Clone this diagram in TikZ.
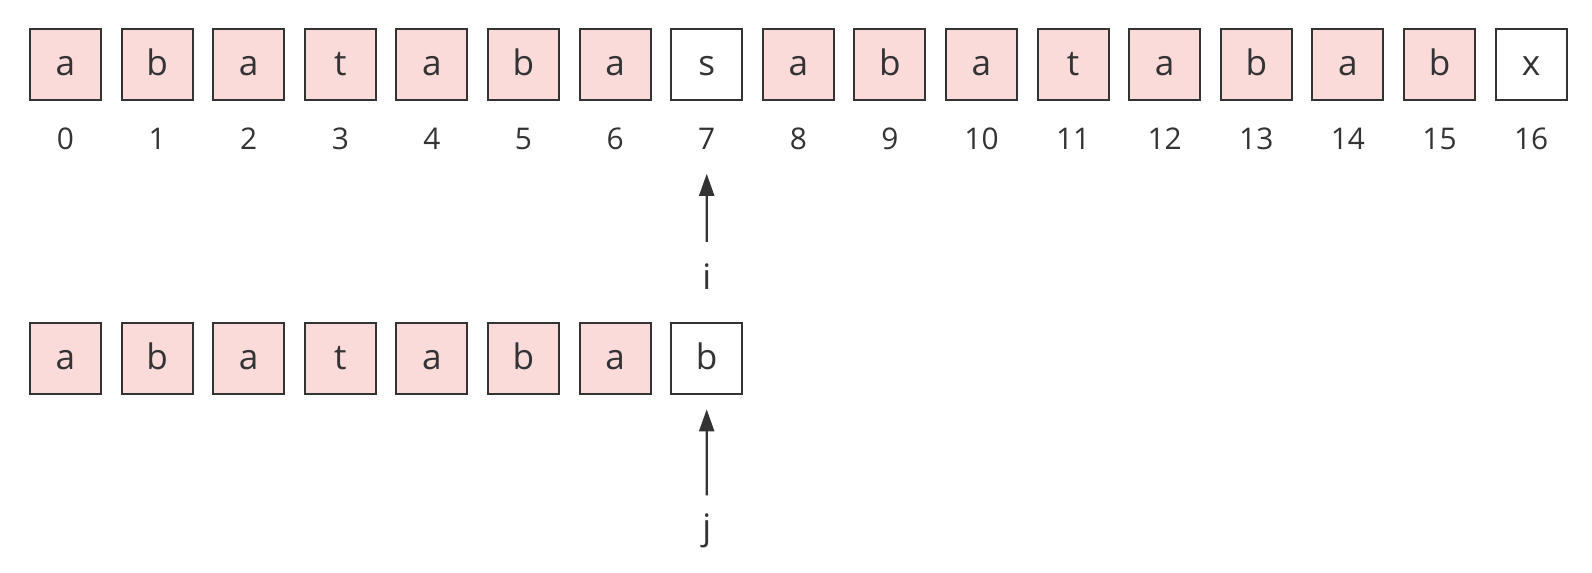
\documentclass[tikz,border=0pt]{standalone}
\usepackage{fontspec}
\setmainfont{Open Sans}
\usetikzlibrary{arrows.meta}
\definecolor{cellpink}{HTML}{FADBDA}
\definecolor{ink}{HTML}{333333}
\tikzset{
	cell/.style={draw=ink, line width=1.2pt, minimum size=1.42cm, inner sep=0pt,
		text height=0.46cm, text depth=0cm, text=ink, font=\fontsize{20}{20}\selectfont},
	idx/.style={inner sep=0pt, anchor=base, text=ink, font=\fontsize{17}{17}\selectfont},
	ptrlabel/.style={inner sep=0pt, anchor=base, text=ink, font=\fontsize{20}{20}\selectfont},
	ptr/.style={draw=ink, line width=1.2pt, -{Triangle[length=0.44cm,width=0.3cm]}},
}
\begin{document}
\begin{tikzpicture}[x=0.02cm, y=-0.02cm]
	\useasboundingbox (0,0) rectangle (1592,573);
	% text row
	\foreach \c/\f [count=\k from 0] in {a/cellpink,b/cellpink,a/cellpink,t/cellpink,a/cellpink,b/cellpink,a/cellpink,s/white,a/cellpink,b/cellpink,a/cellpink,t/cellpink,a/cellpink,b/cellpink,a/cellpink,b/cellpink,x/white} {
		\node[cell, fill=\f] (t\k) at (65.5+91.6*\k, 64.5) {\c};
		\node[idx] (n\k) at (65.5+91.6*\k, 150) {\k};
	}
	% pattern row
	\foreach \c/\f [count=\k from 0] in {a/cellpink,b/cellpink,a/cellpink,t/cellpink,a/cellpink,b/cellpink,a/cellpink,b/white} {
		\node[cell, fill=\f] (p\k) at (65.5+91.6*\k, 358.3) {\c};
	}
	\node[ptrlabel] (i) at (706.7, 290) {i};
	\node[ptrlabel] (j) at (706.7, 540) {j};
	\draw[ptr, shorten <=0.44cm, shorten >=0.47cm] (i.north) -- (n7.south);
	\draw[ptr, shorten <=0.37cm, shorten >=0.29cm] (j.north) -- (p7.south);
\end{tikzpicture}
\end{document}
